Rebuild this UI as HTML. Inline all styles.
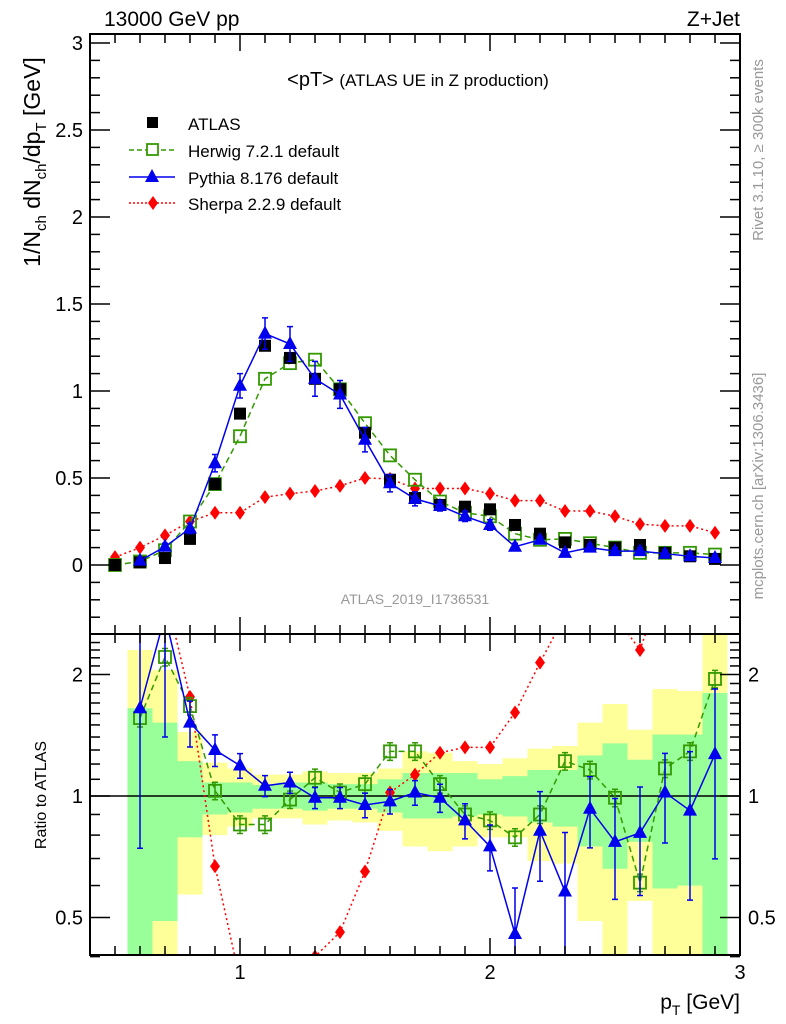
<!DOCTYPE html>
<html><head><meta charset="utf-8"><style>
body{margin:0;background:#fff}
svg{display:block;font-family:"Liberation Sans",sans-serif}
</style></head><body>
<svg id="c" width="786" height="1024" xmlns="http://www.w3.org/2000/svg"></svg>
<script>
const xs = [0.5,0.6,0.7,0.8,0.9,1.0,1.1,1.2,1.3,1.4,1.5,1.6,1.7,1.8,1.9,2.0,2.1,2.2,2.3,2.4,2.5,2.6,2.7,2.8,2.9];
const atlas = [0.00,0.015,0.04,0.15,0.465,0.87,1.26,1.19,1.07,1.01,0.76,0.49,0.385,0.345,0.335,0.32,0.23,0.18,0.13,0.115,0.10,0.115,0.07,0.05,0.035];
const herwig = [0.00,0.02,0.085,0.25,0.465,0.74,1.07,1.16,1.18,1.01,0.815,0.63,0.49,0.365,0.30,0.28,0.18,0.145,0.15,0.125,0.10,0.07,0.07,0.07,0.06];
const pythia = [null,0.025,0.105,0.21,0.585,1.03,1.33,1.27,1.07,0.98,0.72,0.47,0.38,0.34,0.28,0.23,0.105,0.145,0.07,0.10,0.08,0.08,0.065,0.05,0.04];
const pythiaErr = [0,0.01,0.02,0.03,0.05,0.07,0.09,0.1,0.1,0.08,0.07,0.05,0.04,0.03,0.03,0.03,0.02,0.02,0.02,0.02,0.02,0.02,0.02,0.02,0.02];
const sherpa = [0.045,0.10,0.17,0.25,0.30,0.30,0.39,0.41,0.425,0.455,0.50,0.495,0.44,0.44,0.44,0.41,0.37,0.37,0.31,0.31,0.28,0.235,0.225,0.225,0.185];
const rx = [0.6,0.7,0.8,0.9,1.0,1.1,1.2,1.3,1.4,1.5,1.6,1.7,1.8,1.9,2.0,2.1,2.2,2.3,2.4,2.5,2.6,2.7,2.8,2.9];
const rPythia = [1.65,2.8,1.52,1.30,1.19,1.06,1.08,0.99,0.99,0.95,0.97,1.02,0.99,0.87,0.75,0.455,0.82,0.58,0.93,0.77,0.81,1.02,0.92,1.27];
const rPythiaErr = [0.55,0.5,0.13,0.09,0.07,0.06,0.06,0.06,0.06,0.07,0.07,0.07,0.08,0.1,0.13,0.3,0.25,0.4,0.2,0.28,0.3,0.25,0.4,0.45];
const rHerwig = [1.56,2.21,1.67,1.03,0.85,0.85,0.98,1.11,1.02,1.07,1.29,1.29,1.07,0.90,0.87,0.79,0.90,1.22,1.16,0.99,0.61,1.17,1.29,1.95];
const rSherpa = [6,3.2,1.76,0.67,0.35,0.30,0.34,0.40,0.46,0.65,1.02,1.13,1.28,1.32,1.32,1.61,2.14,2.8,2.6,2.8,2.3,3.5,4,3.6];
const bandYHi = [2.3,2.05,1.44,1.21,1.17,1.13,1.13,1.15,1.14,1.14,1.17,1.29,1.28,1.22,1.20,1.24,1.31,1.33,1.52,1.69,1.46,1.84,1.82,3];
const bandGHi = [1.65,1.52,1.22,1.08,1.08,1.065,1.08,1.08,1.07,1.07,1.10,1.14,1.14,1.14,1.10,1.12,1.16,1.16,1.26,1.35,1.23,1.42,1.42,1.80];
const bandGLo = [0.3,0.49,0.79,0.90,0.91,0.93,0.93,0.92,0.93,0.93,0.91,0.88,0.88,0.89,0.90,0.89,0.86,0.84,0.75,0.66,0.77,0.59,0.60,0.3];
const bandYLo = [0.3,0.3,0.57,0.80,0.84,0.88,0.88,0.85,0.87,0.86,0.82,0.75,0.73,0.75,0.79,0.79,0.69,0.68,0.49,0.3,0.55,0.3,0.3,0.3];
const yTicks = [0,0.5,1,1.5,2,2.5,3];
const rTicks = [0.5,1,2];
const xTicks = [1,2,3];

const svg = document.getElementById('c');
const NS = 'http://www.w3.org/2000/svg';
const L=90,R=740,T=34,MB=634,RB=955;
const X = v => L + (v-0.4)*250;
const Y = v => 565 - v*174;
const RY = v => 796 - Math.log2(v)*121.5;
function mk(tag, attrs, parent){const e=document.createElementNS(NS,tag);for(const k in attrs)e.setAttribute(k,attrs[k]);(parent||svg).appendChild(e);return e;}
function txt(s,attrs,parent){const e=mk('text',attrs,parent);e.textContent=s;return e;}

const defs=mk('defs',{});
const cp=mk('clipPath',{id:'rc'},defs);mk('rect',{x:L,y:MB,width:R-L,height:RB-MB},cp);
const cp2=mk('clipPath',{id:'mc'},defs);mk('rect',{x:L,y:T,width:R-L,height:MB-T},cp2);

const bands=mk('g',{'clip-path':'url(#rc)'});


rx.forEach((x,i)=>{
  const x0=X(x-0.05),w=25;
  const y1=mk('rect',{x:x0,y:RY(bandYHi[i]),width:w,height:RY(bandYLo[i])-RY(bandYHi[i]),fill:'#ffff99'},bands);
  
  
  const g1=mk('rect',{x:x0,y:RY(bandGHi[i]),width:w,height:RY(bandGLo[i])-RY(bandGHi[i]),fill:'#99ff99'},bands);
  
  
});
mk('line',{x1:L,x2:R,y1:RY(1),y2:RY(1),stroke:'#000','stroke-width':1.5});

function marker(g,type,x,y,col){
  if(type==='sq') return mk('rect',{x:x-6,y:y-6,width:12,height:12,fill:'#000'},g);
  if(type==='osq') return mk('rect',{x:x-6,y:y-6,width:12,height:12,fill:'none',stroke:col,'stroke-width':1.8},g);
  if(type==='tri') return mk('polygon',{points:`${x},${y-8} ${x-7},${y+5} ${x+7},${y+5}`,fill:col},g);
  if(type==='dia') return mk('polygon',{points:`${x},${y-7} ${x-5},${y} ${x},${y+7} ${x+5},${y}`,fill:col},g);
}
function series(name,xsA,vals,fx,fy,col,dash,type,errs,clip){
  const g=mk('g',{'clip-path':clip});
  
  
  let d='';
  vals.forEach((v,i)=>{if(v==null)return;d+=(d?'L':'M')+fx(xsA[i])+','+fy(v);});
  if(col) mk('path',{d,fill:'none',stroke:col,'stroke-width':dash==='2,2'?1.6:1.5,'stroke-dasharray':dash},g);
  vals.forEach((v,i)=>{
    if(v==null)return;
    if(errs){const e=errs[i];const lo=Math.max(v-e,0.01);const x=fx(xsA[i]);
      mk('path',{d:`M${x},${fy(v+e)}V${fy(lo)}M${x-3},${fy(v+e)}h6M${x-3},${fy(lo)}h6`,stroke:col||'#000','stroke-width':1.5,fill:'none'},g);}
    const m=marker(g,type,fx(xsA[i]),fy(v),col);
    
    
  });
}
series('sherpa-series',xs,sherpa,X,Y,'#ff0000','2,3','dia',null,'url(#mc)');
series('herwig-series',xs,herwig,X,Y,'#339900','6,4','osq',null,'url(#mc)');
series('atlas-data',xs,atlas,X,Y,null,null,'sq',null,'url(#mc)');
series('pythia-series',xs,pythia,X,Y,'#0000ee',null,'tri',pythiaErr,'url(#mc)');
series('sherpa-ratio',rx,rSherpa,X,RY,'#ff0000','2,3','dia',null,'url(#rc)');
series('herwig-ratio',rx,rHerwig,X,RY,'#339900','6,4','osq',rHerwig.map(v=>v*0.05),'url(#rc)');
series('pythia-ratio',rx,rPythia,X,RY,'#0000ee',null,'tri',rPythia.map((v,i)=>v*rPythiaErr[i]),'url(#rc)');

mk('rect',{x:L,y:T,width:R-L,height:MB-T,fill:'none',stroke:'#000','stroke-width':2});
mk('rect',{x:L,y:MB,width:R-L,height:RB-MB,fill:'none',stroke:'#000','stroke-width':2});
const tk=mk('g',{stroke:'#000','stroke-width':1.5});
for(let v=0.5;v<=2.95;v+=0.1){const x=X(v);const maj=Math.abs(v-Math.round(v))<0.01;const l=maj?17:9;
  [[T,1],[MB,-1],[MB,1],[RB,-1]].forEach(([y,s])=>mk('line',{x1:x,x2:x,y1:y,y2:y+s*l},tk));}
for(let v=-0.3;v<=3.01;v+=0.1){const y=Y(v);const maj=Math.abs(v*2-Math.round(v*2))<0.01;const l=maj?20:10;
  mk('line',{x1:L,x2:L+l,y1:y,y2:y},tk);mk('line',{x1:R,x2:R-l,y1:y,y2:y},tk);}
[0.4,0.5,0.6,0.7,0.8,0.9,1,1.1,1.2,1.3,1.4,1.5,1.6,1.7,1.8,1.9,2,2.1,2.2,2.3,2.4].forEach(v=>{const y=RY(v);const maj=[0.5,1,2].includes(v);const l=maj?20:10;
  mk('line',{x1:L,x2:L+l,y1:y,y2:y},tk);mk('line',{x1:R,x2:R-l,y1:y,y2:y},tk);});
yTicks.forEach(v=>{const t=txt(String(v),{x:L-7,y:Y(v)+7,'font-size':20,'text-anchor':'end'});
  });
rTicks.forEach(v=>{
  const a=txt(String(v),{x:L-7,y:RY(v)+7,'font-size':20,'text-anchor':'end'});
  const b=txt(String(v),{x:R+8,y:RY(v)+7,'font-size':20});});
xTicks.forEach(v=>{const t=txt(String(v),{x:X(v),y:RB+24,'font-size':20,'text-anchor':'middle'});
  });
</script>
<div style="position:absolute;left:0;top:0;width:786px;height:1024px;pointer-events:none">
<svg width="786" height="1024" xmlns="http://www.w3.org/2000/svg" style="font-family:'Liberation Sans',sans-serif">
<text x="104" y="26" font-size="21">13000 GeV pp</text>
<text x="740" y="26" font-size="21" text-anchor="end">Z+Jet</text>
<text x="418" y="86" font-size="20" text-anchor="middle">&lt;pT&gt; <tspan font-size="17">(ATLAS UE in Z production)</tspan></text>
<g font-size="17">
<rect x="147" y="117" width="11" height="11" fill="#000"/>
<text x="188" y="130">ATLAS</text>
<line x1="129" x2="175" y1="150" y2="150" stroke="#339900" stroke-width="1.5" stroke-dasharray="5,3"/>
<rect x="147" y="144" width="11" height="11" fill="#fff" stroke="#339900" stroke-width="1.8"/>
<text x="188" y="157">Herwig 7.2.1 default</text>
<line x1="129" x2="175" y1="177" y2="177" stroke="#0000ee" stroke-width="1.5"/>
<polygon points="152,169 145,182 159,182" fill="#0000ee"/>
<text x="188" y="184">Pythia 8.176 default</text>
<line x1="129" x2="175" y1="203" y2="203" stroke="#ff0000" stroke-width="1.5" stroke-dasharray="2,2"/>
<polygon points="153,196 148,203 153,210 158,203" fill="#ff0000"/>
<text x="188" y="210">Sherpa 2.2.9 default</text>
</g>
<text x="415" y="604" font-size="14" fill="#999" text-anchor="middle">ATLAS_2019_I1736531</text>
<text transform="translate(40,162) rotate(-90)" font-size="23" text-anchor="middle">1/N<tspan font-size="15" dy="6">ch</tspan><tspan dy="-6"> dN</tspan><tspan font-size="15" dy="6">ch</tspan><tspan dy="-6">/dp</tspan><tspan font-size="15" dy="6">T</tspan><tspan dy="-6"> [GeV]</tspan></text>
<text transform="translate(46,795) rotate(-90)" font-size="16" text-anchor="middle">Ratio to ATLAS</text>
<text x="740" y="1009" font-size="21" text-anchor="end">p<tspan font-size="14" dy="6">T</tspan><tspan dy="-6"> [GeV]</tspan></text>
<text transform="translate(763,150) rotate(-90)" font-size="15" fill="#999" text-anchor="middle">Rivet 3.1.10, ≥ 300k events</text>
<text transform="translate(763,486) rotate(-90)" font-size="15" fill="#999" text-anchor="middle">mcplots.cern.ch [arXiv:1306.3436]</text>
</svg></div>
</body></html>
